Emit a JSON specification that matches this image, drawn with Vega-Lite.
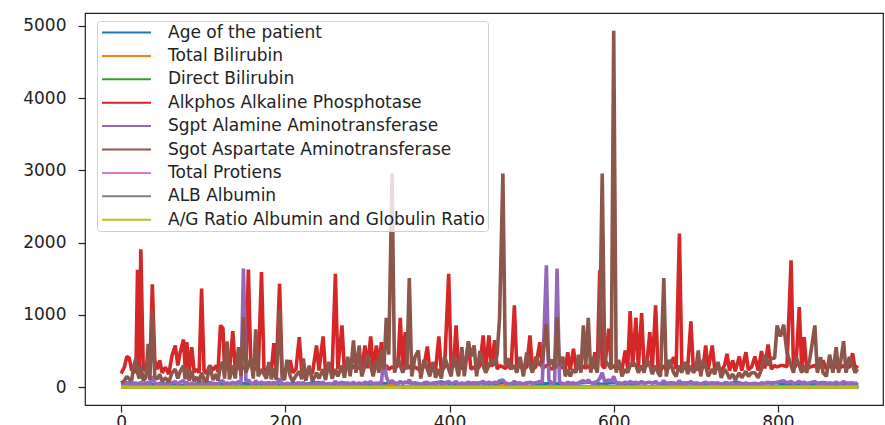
{
"$schema": "https://vega.github.io/schema/vega-lite/v6.json",
"width": 798, "height": 392,
"autosize": {"type": "none"},
"padding": {"left": 85, "top": 13, "right": 2, "bottom": 20},
"datasets": {
"main": [
{"i":0,"alk":190,"sgpt":30,"sgot":60},{"i":4,"alk":280,"sgpt":40,"sgot":90},{"i":7,"alk":425,"sgpt":60,"sgot":150},{"i":10,"alk":400,"sgpt":45,"sgot":110},{"i":13,"alk":230,"sgpt":30,"sgot":100},{"i":15,"alk":260,"sgpt":50,"sgot":277},{"i":18,"alk":200,"sgpt":35,"sgot":400},{"i":20,"alk":1626,"sgpt":60,"sgot":200},{"i":22,"alk":250,"sgpt":30,"sgot":120},{"i":24,"alk":1907,"sgpt":70,"sgot":300},{"i":27,"alk":230,"sgpt":40,"sgot":90},{"i":30,"alk":270,"sgpt":50,"sgot":130},{"i":33,"alk":300,"sgpt":70,"sgot":601},{"i":35,"alk":220,"sgpt":40,"sgot":100},{"i":38,"alk":1422,"sgpt":150,"sgot":1062},{"i":41,"alk":370,"sgpt":60,"sgot":150},{"i":44,"alk":250,"sgpt":40,"sgot":110},{"i":47,"alk":370,"sgpt":55,"sgot":180},{"i":50,"alk":200,"sgpt":30,"sgot":80},{"i":54,"alk":277,"sgpt":45,"sgot":130},{"i":58,"alk":180,"sgpt":25,"sgot":70},
{"i":62,"alk":439,"sgpt":60,"sgot":200},{"i":66,"alk":577,"sgpt":80,"sgot":250},{"i":69,"alk":300,"sgpt":40,"sgot":120},{"i":72,"alk":480,"sgpt":70,"sgot":220},{"i":76,"alk":660,"sgpt":90,"sgot":300},{"i":78,"alk":260,"sgpt":40,"sgot":110},{"i":80,"alk":623,"sgpt":70,"sgot":260},{"i":83,"alk":220,"sgpt":35,"sgot":90},{"i":86,"alk":554,"sgpt":60,"sgot":230},{"i":89,"alk":210,"sgpt":30,"sgot":80},{"i":92,"alk":250,"sgpt":45,"sgot":140},{"i":95,"alk":200,"sgpt":25,"sgot":70},{"i":98,"alk":1363,"sgpt":80,"sgot":200},{"i":101,"alk":230,"sgpt":40,"sgot":110},{"i":104,"alk":190,"sgpt":30,"sgot":70},{"i":108,"alk":300,"sgpt":60,"sgot":300},{"i":112,"alk":240,"sgpt":40,"sgot":100},{"i":116,"alk":300,"sgpt":50,"sgot":180},{"i":118,"alk":210,"sgpt":30,"sgot":90},
{"i":121,"alk":855,"sgpt":80,"sgot":300},{"i":124,"alk":817,"sgpt":90,"sgot":350},{"i":126,"alk":250,"sgpt":40,"sgot":120},{"i":129,"alk":300,"sgpt":60,"sgot":633},{"i":132,"alk":230,"sgpt":40,"sgot":110},{"i":136,"alk":776,"sgpt":70,"sgot":300},{"i":139,"alk":250,"sgpt":40,"sgot":120},{"i":143,"alk":300,"sgpt":80,"sgot":554},{"i":146,"alk":220,"sgpt":50,"sgot":150},{"i":149,"alk":300,"sgpt":1640,"sgot":970},{"i":152,"alk":260,"sgpt":80,"sgot":200},{"i":155,"alk":1626,"sgpt":100,"sgot":300},{"i":158,"alk":300,"sgpt":60,"sgot":400},{"i":161,"alk":230,"sgpt":40,"sgot":120},{"i":164,"alk":280,"sgpt":90,"sgot":799},{"i":167,"alk":220,"sgpt":50,"sgot":150},{"i":171,"alk":1593,"sgpt":70,"sgot":250},{"i":174,"alk":260,"sgpt":50,"sgot":180},{"i":177,"alk":220,"sgpt":40,"sgot":120},{"i":180,"alk":300,"sgpt":60,"sgot":350},
{"i":183,"alk":230,"sgpt":40,"sgot":110},{"i":186,"alk":610,"sgpt":70,"sgot":260},{"i":189,"alk":220,"sgpt":35,"sgot":100},{"i":193,"alk":1432,"sgpt":120,"sgot":1062},{"i":196,"alk":250,"sgpt":50,"sgot":150},{"i":199,"alk":210,"sgpt":40,"sgot":100},{"i":202,"alk":280,"sgpt":55,"sgot":380},{"i":206,"alk":370,"sgpt":45,"sgot":150},{"i":209,"alk":200,"sgpt":30,"sgot":80},{"i":213,"alk":250,"sgpt":50,"sgot":160},{"i":217,"alk":693,"sgpt":60,"sgot":220},{"i":220,"alk":220,"sgpt":40,"sgot":110},{"i":222,"alk":260,"sgpt":70,"sgot":397},{"i":225,"alk":200,"sgpt":30,"sgot":90},{"i":229,"alk":240,"sgpt":45,"sgot":300},{"i":233,"alk":190,"sgpt":30,"sgot":80},{"i":238,"alk":577,"sgpt":60,"sgot":200},{"i":241,"alk":230,"sgpt":40,"sgot":120},{"i":246,"alk":702,"sgpt":70,"sgot":250},{"i":249,"alk":210,"sgpt":35,"sgot":100},
{"i":253,"alk":250,"sgpt":50,"sgot":350},{"i":257,"alk":220,"sgpt":40,"sgot":120},{"i":261,"alk":1570,"sgpt":80,"sgot":250},{"i":264,"alk":250,"sgpt":45,"sgot":150},{"i":269,"alk":855,"sgpt":70,"sgot":300},{"i":272,"alk":230,"sgpt":40,"sgot":130},{"i":276,"alk":300,"sgpt":60,"sgot":420},{"i":279,"alk":240,"sgpt":40,"sgot":150},{"i":283,"alk":300,"sgpt":70,"sgot":647},{"i":286,"alk":250,"sgpt":45,"sgot":200},{"i":290,"alk":280,"sgpt":60,"sgot":577},{"i":293,"alk":230,"sgpt":40,"sgot":150},{"i":297,"alk":577,"sgpt":70,"sgot":300},{"i":300,"alk":260,"sgpt":50,"sgot":450},{"i":304,"alk":702,"sgpt":80,"sgot":300},{"i":307,"alk":240,"sgpt":45,"sgot":150},{"i":311,"alk":577,"sgpt":60,"sgot":380},{"i":314,"alk":250,"sgpt":50,"sgot":200},{"i":317,"alk":623,"sgpt":60,"sgot":520},{"i":320,"alk":260,"sgpt":400,"sgot":250},
{"i":323,"alk":300,"sgpt":150,"sgot":961},{"i":326,"alk":250,"sgpt":60,"sgot":450},{"i":330,"alk":280,"sgpt":90,"sgot":2955},{"i":333,"alk":260,"sgpt":60,"sgot":200},{"i":337,"alk":300,"sgpt":50,"sgot":400},{"i":340,"alk":961,"sgpt":80,"sgot":300},{"i":343,"alk":250,"sgpt":50,"sgot":200},{"i":346,"alk":762,"sgpt":70,"sgot":300},{"i":348,"alk":260,"sgpt":60,"sgot":250},{"i":351,"alk":300,"sgpt":100,"sgot":1510},{"i":354,"alk":240,"sgpt":50,"sgot":150},{"i":358,"alk":280,"sgpt":60,"sgot":420},{"i":362,"alk":250,"sgpt":50,"sgot":508},{"i":365,"alk":220,"sgpt":40,"sgot":120},{"i":369,"alk":300,"sgpt":60,"sgot":380},{"i":373,"alk":564,"sgpt":70,"sgot":250},{"i":376,"alk":230,"sgpt":40,"sgot":150},{"i":380,"alk":300,"sgpt":50,"sgot":350},{"i":383,"alk":240,"sgpt":40,"sgot":130},{"i":387,"alk":702,"sgpt":70,"sgot":250},
{"i":390,"alk":220,"sgpt":40,"sgot":120},{"i":394,"alk":280,"sgpt":55,"sgot":420},{"i":399,"alk":1570,"sgpt":80,"sgot":250},{"i":402,"alk":250,"sgpt":50,"sgot":150},{"i":405,"alk":300,"sgpt":60,"sgot":450},{"i":408,"alk":855,"sgpt":80,"sgot":300},{"i":411,"alk":240,"sgpt":40,"sgot":150},{"i":415,"alk":280,"sgpt":60,"sgot":554},{"i":418,"alk":230,"sgpt":45,"sgot":150},{"i":423,"alk":613,"sgpt":70,"sgot":637},{"i":426,"alk":250,"sgpt":50,"sgot":420},{"i":430,"alk":280,"sgpt":60,"sgot":577},{"i":433,"alk":230,"sgpt":40,"sgot":150},{"i":437,"alk":300,"sgpt":60,"sgot":500},{"i":441,"alk":716,"sgpt":80,"sgot":300},{"i":444,"alk":250,"sgpt":50,"sgot":200},{"i":448,"alk":716,"sgpt":70,"sgot":300},{"i":451,"alk":280,"sgpt":50,"sgot":380},{"i":455,"alk":650,"sgpt":70,"sgot":300},{"i":458,"alk":250,"sgpt":60,"sgot":450},
{"i":461,"alk":300,"sgpt":90,"sgot":970},{"i":465,"alk":280,"sgpt":100,"sgot":2955},{"i":468,"alk":260,"sgpt":60,"sgot":300},{"i":471,"alk":300,"sgpt":50,"sgot":400},{"i":475,"alk":250,"sgpt":45,"sgot":250},{"i":479,"alk":1132,"sgpt":80,"sgot":300},{"i":482,"alk":260,"sgpt":50,"sgot":200},{"i":486,"alk":300,"sgpt":60,"sgot":420},{"i":490,"alk":240,"sgpt":40,"sgot":150},{"i":494,"alk":280,"sgpt":50,"sgot":480},{"i":498,"alk":716,"sgpt":70,"sgot":300},{"i":501,"alk":250,"sgpt":50,"sgot":200},{"i":505,"alk":280,"sgpt":60,"sgot":420},{"i":510,"alk":623,"sgpt":80,"sgot":300},{"i":513,"alk":260,"sgpt":60,"sgot":350},{"i":518,"alk":300,"sgpt":1686,"sgot":878},{"i":521,"alk":280,"sgpt":100,"sgot":300},{"i":525,"alk":250,"sgpt":50,"sgot":380},{"i":528,"alk":300,"sgpt":70,"sgot":250},{"i":531,"alk":300,"sgpt":1640,"sgot":970},
{"i":534,"alk":260,"sgpt":70,"sgot":300},{"i":538,"alk":280,"sgpt":50,"sgot":420},{"i":541,"alk":250,"sgpt":45,"sgot":150},{"i":544,"alk":485,"sgpt":70,"sgot":250},{"i":547,"alk":240,"sgpt":50,"sgot":150},{"i":551,"alk":532,"sgpt":60,"sgot":250},{"i":554,"alk":250,"sgpt":45,"sgot":200},{"i":557,"alk":280,"sgpt":60,"sgot":450},{"i":560,"alk":240,"sgpt":80,"sgot":200},{"i":563,"alk":300,"sgpt":90,"sgot":855},{"i":566,"alk":260,"sgpt":60,"sgot":300},{"i":569,"alk":300,"sgpt":100,"sgot":961},{"i":572,"alk":250,"sgpt":60,"sgot":200},{"i":575,"alk":280,"sgpt":50,"sgot":420},{"i":577,"alk":485,"sgpt":70,"sgot":300},{"i":580,"alk":260,"sgpt":80,"sgot":200},{"i":583,"alk":1616,"sgpt":120,"sgot":800},{"i":586,"alk":300,"sgpt":200,"sgot":2955},{"i":589,"alk":260,"sgpt":80,"sgot":380},{"i":594,"alk":809,"sgpt":100,"sgot":300},
{"i":597,"alk":280,"sgpt":80,"sgot":250},{"i":600,"alk":300,"sgpt":150,"sgot":4929},{"i":603,"alk":250,"sgpt":60,"sgot":200},{"i":606,"alk":280,"sgpt":60,"sgot":380},{"i":610,"alk":240,"sgpt":50,"sgot":150},{"i":614,"alk":508,"sgpt":70,"sgot":250},{"i":617,"alk":260,"sgpt":50,"sgot":200},{"i":620,"alk":1053,"sgpt":80,"sgot":300},{"i":623,"alk":280,"sgpt":60,"sgot":350},{"i":627,"alk":961,"sgpt":70,"sgot":300},{"i":630,"alk":260,"sgpt":50,"sgot":200},{"i":634,"alk":1025,"sgpt":80,"sgot":300},{"i":637,"alk":260,"sgpt":50,"sgot":200},{"i":640,"alk":300,"sgpt":60,"sgot":400},{"i":644,"alk":762,"sgpt":70,"sgot":300},{"i":647,"alk":250,"sgpt":50,"sgot":180},{"i":651,"alk":1132,"sgpt":80,"sgot":300},{"i":654,"alk":260,"sgpt":50,"sgot":200},{"i":657,"alk":230,"sgpt":45,"sgot":150},{"i":661,"alk":300,"sgpt":90,"sgot":1510},
{"i":664,"alk":240,"sgpt":50,"sgot":150},{"i":668,"alk":280,"sgpt":60,"sgot":380},{"i":673,"alk":415,"sgpt":60,"sgot":200},{"i":676,"alk":250,"sgpt":45,"sgot":150},{"i":680,"alk":2125,"sgpt":90,"sgot":300},{"i":683,"alk":250,"sgpt":50,"sgot":200},{"i":687,"alk":300,"sgpt":60,"sgot":350},{"i":690,"alk":260,"sgpt":50,"sgot":180},{"i":694,"alk":910,"sgpt":80,"sgot":300},{"i":697,"alk":260,"sgpt":50,"sgot":200},{"i":700,"alk":300,"sgpt":60,"sgot":250},{"i":703,"alk":250,"sgpt":55,"sgot":508},{"i":706,"alk":230,"sgpt":40,"sgot":150},{"i":709,"alk":280,"sgpt":60,"sgot":380},{"i":712,"alk":577,"sgpt":70,"sgot":300},{"i":715,"alk":240,"sgpt":50,"sgot":150},{"i":720,"alk":577,"sgpt":60,"sgot":250},{"i":723,"alk":250,"sgpt":50,"sgot":180},{"i":727,"alk":280,"sgpt":60,"sgot":350},{"i":731,"alk":230,"sgpt":40,"sgot":130},
{"i":735,"alk":300,"sgpt":60,"sgot":250},{"i":738,"alk":462,"sgpt":60,"sgot":200},{"i":741,"alk":230,"sgpt":40,"sgot":120},{"i":745,"alk":370,"sgpt":50,"sgot":180},{"i":748,"alk":220,"sgpt":35,"sgot":100},{"i":753,"alk":425,"sgpt":55,"sgot":200},{"i":756,"alk":230,"sgpt":40,"sgot":130},{"i":761,"alk":485,"sgpt":60,"sgot":220},{"i":764,"alk":240,"sgpt":45,"sgot":150},{"i":768,"alk":280,"sgpt":50,"sgot":200},{"i":772,"alk":425,"sgpt":55,"sgot":200},{"i":776,"alk":230,"sgpt":40,"sgot":130},{"i":780,"alk":499,"sgpt":60,"sgot":250},{"i":784,"alk":260,"sgpt":50,"sgot":450},{"i":788,"alk":591,"sgpt":70,"sgot":300},{"i":792,"alk":250,"sgpt":50,"sgot":400},{"i":796,"alk":300,"sgpt":60,"sgot":400},{"i":799,"alk":280,"sgpt":70,"sgot":855},{"i":803,"alk":300,"sgpt":80,"sgot":700},{"i":807,"alk":300,"sgpt":90,"sgot":864},
{"i":811,"alk":280,"sgpt":60,"sgot":480},{"i":816,"alk":1755,"sgpt":80,"sgot":300},{"i":819,"alk":260,"sgpt":50,"sgot":200},{"i":822,"alk":300,"sgpt":60,"sgot":420},{"i":826,"alk":1108,"sgpt":80,"sgot":300},{"i":829,"alk":260,"sgpt":55,"sgot":200},{"i":832,"alk":693,"sgpt":70,"sgot":300},{"i":835,"alk":250,"sgpt":50,"sgot":200},{"i":839,"alk":280,"sgpt":60,"sgot":400},{"i":845,"alk":300,"sgpt":80,"sgot":855},{"i":848,"alk":260,"sgpt":50,"sgot":200},{"i":852,"alk":280,"sgpt":55,"sgot":415},{"i":855,"alk":370,"sgpt":60,"sgot":200},{"i":859,"alk":250,"sgpt":45,"sgot":150},{"i":863,"alk":300,"sgpt":60,"sgot":450},{"i":867,"alk":260,"sgpt":50,"sgot":200},{"i":871,"alk":300,"sgpt":70,"sgot":554},{"i":874,"alk":250,"sgpt":50,"sgot":200},{"i":877,"alk":280,"sgpt":55,"sgot":400},{"i":880,"alk":300,"sgpt":80,"sgot":637},
{"i":883,"alk":260,"sgpt":50,"sgot":200},{"i":887,"alk":280,"sgpt":55,"sgot":420},{"i":891,"alk":471,"sgpt":60,"sgot":300},{"i":894,"alk":250,"sgpt":50,"sgot":200},{"i":897,"alk":300,"sgpt":60,"sgot":250}
],
"low": [
{"i":0,"age":65,"tb":0.7,"db":0.1,"tp":6.8,"alb":3.3,"ag":0.9},{"i":15,"age":62,"tb":10.9,"db":5.5,"tp":7.5,"alb":3.2,"ag":0.74},{"i":30,"age":33,"tb":0.9,"db":0.2,"tp":6.2,"alb":3.1,"ag":1.0},{"i":45,"age":46,"tb":1.8,"db":0.7,"tp":6.6,"alb":2.9,"ag":0.8},{"i":60,"age":58,"tb":0.8,"db":0.2,"tp":7.0,"alb":3.5,"ag":1.0},{"i":75,"age":26,"tb":0.9,"db":0.3,"tp":6.9,"alb":3.4,"ag":0.97},{"i":90,"age":45,"tb":2.7,"db":1.3,"tp":6.0,"alb":2.7,"ag":0.8},{"i":105,"age":72,"tb":0.7,"db":0.2,"tp":7.4,"alb":3.6,"ag":0.95},{"i":120,"age":38,"tb":1.0,"db":0.3,"tp":5.8,"alb":2.8,"ag":0.9},{"i":135,"age":60,"tb":4.2,"db":2.1,"tp":6.4,"alb":3.0,"ag":0.88},
{"i":150,"age":51,"tb":14.2,"db":7.8,"tp":5.9,"alb":2.6,"ag":0.78},{"i":165,"age":42,"tb":0.8,"db":0.2,"tp":7.2,"alb":3.9,"ag":1.1},{"i":180,"age":66,"tb":1.1,"db":0.4,"tp":6.1,"alb":2.9,"ag":0.9},{"i":195,"age":29,"tb":0.6,"db":0.1,"tp":6.9,"alb":3.6,"ag":1.1},{"i":210,"age":55,"tb":3.6,"db":1.7,"tp":6.6,"alb":3.1,"ag":0.88},{"i":225,"age":47,"tb":0.9,"db":0.2,"tp":7.1,"alb":3.7,"ag":1.0},{"i":240,"age":70,"tb":1.9,"db":0.9,"tp":6.3,"alb":2.8,"ag":0.8},{"i":255,"age":35,"tb":0.7,"db":0.2,"tp":6.8,"alb":3.4,"ag":1.0},{"i":270,"age":61,"tb":12.7,"db":6.2,"tp":5.6,"alb":2.5,"ag":0.8},{"i":285,"age":48,"tb":0.8,"db":0.2,"tp":7.3,"alb":3.8,"ag":1.1},
{"i":300,"age":24,"tb":1.0,"db":0.3,"tp":6.7,"alb":3.5,"ag":1.1},{"i":315,"age":57,"tb":2.2,"db":1.0,"tp":6.2,"alb":3.0,"ag":0.9},{"i":330,"age":44,"tb":27.2,"db":11.8,"tp":5.9,"alb":2.3,"ag":0.6},{"i":345,"age":68,"tb":0.9,"db":0.2,"tp":7.0,"alb":3.3,"ag":0.9},{"i":360,"age":39,"tb":1.2,"db":0.5,"tp":6.5,"alb":3.2,"ag":1.0},{"i":375,"age":53,"tb":0.8,"db":0.2,"tp":7.6,"alb":4.0,"ag":1.1},{"i":390,"age":75,"tb":1.6,"db":0.6,"tp":6.0,"alb":2.6,"ag":0.8},{"i":405,"age":32,"tb":0.7,"db":0.1,"tp":6.9,"alb":3.6,"ag":1.1},{"i":420,"age":50,"tb":5.8,"db":2.9,"tp":6.4,"alb":3.0,"ag":0.9},{"i":435,"age":63,"tb":0.9,"db":0.3,"tp":7.2,"alb":3.7,"ag":1.0},
{"i":450,"age":41,"tb":1.3,"db":0.5,"tp":6.6,"alb":3.1,"ag":0.9},{"i":465,"age":56,"tb":22.6,"db":11.4,"tp":6.2,"alb":2.4,"ag":0.6},{"i":480,"age":28,"tb":0.8,"db":0.2,"tp":7.0,"alb":3.6,"ag":1.0},{"i":495,"age":66,"tb":1.1,"db":0.4,"tp":6.3,"alb":2.9,"ag":0.85},{"i":510,"age":45,"tb":0.6,"db":0.1,"tp":7.4,"alb":3.9,"ag":1.1},{"i":525,"age":59,"tb":8.9,"db":4.0,"tp":5.8,"alb":2.6,"ag":0.8},{"i":540,"age":37,"tb":0.9,"db":0.2,"tp":6.8,"alb":3.4,"ag":1.0},{"i":555,"age":52,"tb":1.5,"db":0.6,"tp":6.5,"alb":3.1,"ag":0.9},{"i":570,"age":70,"tb":0.7,"db":0.2,"tp":7.1,"alb":3.5,"ag":0.95},{"i":585,"age":43,"tb":18.4,"db":8.8,"tp":6.0,"alb":2.5,"ag":0.7},
{"i":600,"age":60,"tb":3.9,"db":1.8,"tp":6.2,"alb":2.8,"ag":0.8},{"i":615,"age":31,"tb":0.8,"db":0.2,"tp":7.3,"alb":3.8,"ag":1.1},{"i":630,"age":54,"tb":1.0,"db":0.3,"tp":6.6,"alb":3.2,"ag":0.9},{"i":645,"age":67,"tb":2.4,"db":1.1,"tp":6.1,"alb":2.7,"ag":0.8},{"i":660,"age":40,"tb":0.7,"db":0.1,"tp":7.0,"alb":3.6,"ag":1.05},{"i":675,"age":48,"tb":30.5,"db":17.1,"tp":5.7,"alb":2.2,"ag":0.6},{"i":690,"age":62,"tb":0.9,"db":0.3,"tp":6.8,"alb":3.3,"ag":0.95},{"i":705,"age":36,"tb":1.1,"db":0.4,"tp":6.4,"alb":3.1,"ag":0.9},{"i":720,"age":58,"tb":0.8,"db":0.2,"tp":7.5,"alb":3.9,"ag":1.1},{"i":735,"age":45,"tb":1.4,"db":0.6,"tp":6.3,"alb":2.9,"ag":0.85},
{"i":750,"age":72,"tb":0.9,"db":0.2,"tp":6.9,"alb":3.4,"ag":0.95},{"i":765,"age":27,"tb":0.6,"db":0.1,"tp":7.2,"alb":3.8,"ag":1.1},{"i":780,"age":50,"tb":4.7,"db":2.3,"tp":6.0,"alb":2.7,"ag":0.8},{"i":795,"age":64,"tb":1.0,"db":0.3,"tp":6.7,"alb":3.2,"ag":0.9},{"i":810,"age":38,"tb":11.3,"db":5.6,"tp":5.9,"alb":2.5,"ag":0.7},{"i":825,"age":55,"tb":0.8,"db":0.2,"tp":7.1,"alb":3.6,"ag":1.0},{"i":840,"age":46,"tb":1.2,"db":0.4,"tp":6.5,"alb":3.1,"ag":0.9},{"i":855,"age":69,"tb":0.7,"db":0.2,"tp":7.0,"alb":3.4,"ag":0.95},{"i":870,"age":33,"tb":2.0,"db":0.9,"tp":6.4,"alb":3.0,"ag":0.9},{"i":885,"age":57,"tb":0.9,"db":0.3,"tp":6.8,"alb":3.5,"ag":1.0},{"i":898,"age":42,"tb":1.1,"db":0.4,"tp":6.6,"alb":3.2,"ag":0.95}
]
},
"encoding": {
  "x": {"field": "i", "type": "quantitative", "title": null,
        "scale": {"domain": [-44, 928], "nice": false, "zero": false},
        "axis": {"values": [0, 200, 400, 600, 800]}}
},
"layer": [
{"data": {"name": "low"}, "mark": {"type": "line", "strokeWidth": 3, "strokeJoin": "bevel"},
 "encoding": {"y": {"field": "age", "type": "quantitative", "title": null, "scale": {"domain": [-246, 5176], "nice": false, "zero": false}, "axis": {"values": [0, 1000, 2000, 3000, 4000, 5000], "format": "d"}},
  "color": {"datum": "Age of the patient", "type": "nominal",
   "scale": {"domain": ["Age of the patient", "Total Bilirubin", "Direct Bilirubin", "\u00a0Alkphos Alkaline Phosphotase", "\u00a0Sgpt Alamine Aminotransferase", "Sgot Aspartate Aminotransferase", "Total Protiens", "\u00a0ALB Albumin", "A/G Ratio Albumin and Globulin Ratio"],
             "range": ["#1f77b4", "#ff7f0e", "#2ca02c", "#d62728", "#9467bd", "#8c564b", "#e377c2", "#7f7f7f", "#bcbd22"]},
   "legend": {"orient": "none", "legendX": 12, "legendY": 8, "title": null,
     "symbolType": "M-4,0H4", "symbolSize": 150, "symbolOffset": 18, "symbolStrokeWidth": 2,
     "labelOffset": 33, "labelFontSize": 17, "labelColor": "#222", "labelFont": "DejaVu Sans", "labelLimit": 600,
     "rowPadding": 5.4, "padding": 3, "fillColor": "rgba(255,255,255,0.8)", "strokeColor": "#d0d0d0", "cornerRadius": 3}}}},
{"data": {"name": "low"}, "mark": {"type": "line", "strokeWidth": 3, "strokeJoin": "bevel"},
 "encoding": {"y": {"field": "tb", "type": "quantitative", "title": null}, "color": {"datum": "Total Bilirubin", "type": "nominal"}}},
{"data": {"name": "low"}, "mark": {"type": "line", "strokeWidth": 3, "strokeJoin": "bevel"},
 "encoding": {"y": {"field": "db", "type": "quantitative", "title": null}, "color": {"datum": "Direct Bilirubin", "type": "nominal"}}},
{"data": {"name": "main"}, "mark": {"type": "line", "strokeWidth": 3.6, "strokeJoin": "bevel"},
 "encoding": {"y": {"field": "alk", "type": "quantitative", "title": null}, "color": {"datum": "\u00a0Alkphos Alkaline Phosphotase", "type": "nominal"}}},
{"data": {"name": "main"}, "mark": {"type": "line", "strokeWidth": 3.6, "strokeJoin": "bevel"},
 "encoding": {"y": {"field": "sgpt", "type": "quantitative", "title": null}, "color": {"datum": "\u00a0Sgpt Alamine Aminotransferase", "type": "nominal"}}},
{"data": {"name": "main"}, "mark": {"type": "line", "strokeWidth": 3.6, "strokeJoin": "bevel"},
 "encoding": {"y": {"field": "sgot", "type": "quantitative", "title": null}, "color": {"datum": "Sgot Aspartate Aminotransferase", "type": "nominal"}}},
{"data": {"name": "low"}, "mark": {"type": "line", "strokeWidth": 3, "strokeJoin": "bevel"},
 "encoding": {"y": {"field": "tp", "type": "quantitative", "title": null}, "color": {"datum": "Total Protiens", "type": "nominal"}}},
{"data": {"name": "low"}, "mark": {"type": "line", "strokeWidth": 3, "strokeJoin": "bevel"},
 "encoding": {"y": {"field": "alb", "type": "quantitative", "title": null}, "color": {"datum": "\u00a0ALB Albumin", "type": "nominal"}}},
{"data": {"name": "low"}, "mark": {"type": "line", "strokeWidth": 3, "strokeJoin": "bevel"},
 "encoding": {"y": {"field": "ag", "type": "quantitative", "title": null}, "color": {"datum": "A/G Ratio Albumin and Globulin Ratio", "type": "nominal"}}}
],
"config": {
  "font": "DejaVu Sans",
  "view": {"stroke": "#222", "strokeWidth": 1.2},
  "axis": {"grid": false, "domain": false, "tickColor": "#222", "tickSize": 7, "tickWidth": 1.2,
           "labelColor": "#222", "labelFont": "DejaVu Sans", "labelFontSize": 17},
  "axisY": {"labelPadding": 12},
  "axisX": {"labelPadding": 2}
}
}
